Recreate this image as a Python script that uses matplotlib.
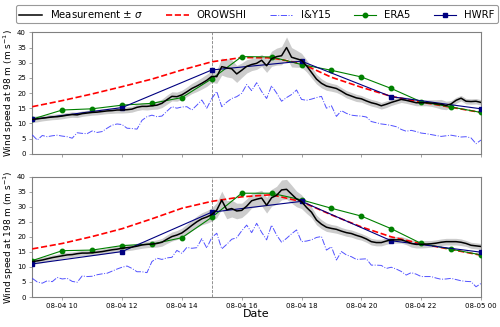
import numpy as np
import pandas as pd
import matplotlib
matplotlib.use("Agg")
import matplotlib.pyplot as plt
import matplotlib.dates as mdates

# ---------------- data ----------------
start = "2018-08-04 09:00"

# 10-min measurements (98 m)
meas_98 = [11.3, 11.5, 11.7, 11.9, 12.1, 12.2,
           12.4, 12.7, 12.9, 12.8, 13.2, 13.4,
           13.6, 13.7, 13.9, 14.1, 14.2, 14.4,
           14.4, 14.5, 14.7, 15.3, 15.6, 15.6,
           15.8, 16.0, 16.6, 17.8, 18.9, 18.8,
           19.4, 20.4, 21.5, 22.3, 23.2, 24.2,
           25.5, 25.4, 28.7, 28.3, 28.0, 26.3,
           27.5, 28.8, 29.4, 29.8, 30.8, 29.0,
           31.3, 32.0, 32.3, 35.0, 31.8, 31.3,
           30.8, 29.0, 26.8, 24.6, 23.2, 22.3,
           21.9, 21.5, 20.6, 19.6, 19.0, 18.4,
           18.1, 17.4, 16.8, 16.4, 15.8, 16.3,
           16.9, 17.4, 17.9, 17.6, 17.2, 16.8,
           16.8, 16.8, 16.7, 16.5, 16.3, 15.9,
           16.4, 17.6, 18.3, 17.3, 17.2, 17.3,
           16.9]
sigma_98 = [1.0, 1.0, 0.9, 0.9, 0.9, 0.9,
            0.9, 0.9, 0.9, 0.9, 0.9, 0.9,
            0.9, 0.9, 0.9, 0.9, 0.9, 1.0,
            1.0, 1.0, 1.0, 1.1, 1.1, 1.2,
            1.2, 1.3, 1.4, 1.5, 1.5, 1.5,
            1.5, 1.6, 1.7, 1.8, 1.9, 2.0,
            2.0, 2.2, 2.8, 3.0, 3.0, 2.8,
            2.4, 2.2, 2.0, 2.0, 2.0, 2.2,
            2.5, 2.8, 3.0, 3.5, 3.2, 2.8,
            2.3, 2.0, 1.8, 1.6, 1.5, 1.4,
            1.3, 1.3, 1.2, 1.2, 1.2, 1.2,
            1.1, 1.1, 1.1, 1.1, 1.1, 1.1,
            1.0, 1.0, 1.0, 1.0, 1.0, 1.0,
            1.0, 1.0, 1.1, 1.3, 1.6, 1.4,
            1.1, 1.0, 0.9, 0.9, 0.9, 0.9,
            0.9]
iy15_98 = [6.2, 4.5, 6.0, 5.6, 5.9, 6.1,
           5.8, 5.6, 5.1, 6.9, 6.7, 6.6,
           7.5, 7.0, 7.3, 8.4, 9.4, 9.8,
           9.6, 8.4, 8.3, 8.1, 11.0, 12.2,
           12.7, 12.2, 12.4, 14.0, 15.5, 15.0,
           15.4, 15.5, 14.4, 16.0, 17.7, 15.0,
           18.2, 20.5, 15.5, 17.0, 18.2, 18.8,
           19.9, 22.8, 20.8, 23.4, 20.5, 18.2,
           22.4, 20.0, 17.3, 18.5, 19.5, 21.0,
           17.9, 17.6, 18.0, 18.5, 18.9, 15.0,
           15.8, 12.3, 14.2, 13.3, 12.7, 12.5,
           12.4, 12.1, 10.6, 10.2, 9.8, 9.6,
           9.3, 8.9, 8.0, 7.4, 7.7, 7.3,
           6.8, 6.6, 6.3, 6.0, 5.7, 5.9,
           6.1, 5.8, 5.5, 5.6, 5.2, 3.3,
           4.5]
orowshi_98 = [15.5, 17.5, 19.7, 22.1, 24.6, 27.6, 30.3, 31.7, 31.6,
              29.7, 25.2, 21.9, 18.9, 17.0, 15.3, 13.6]
era5_98 = [11.4, 14.4, 14.8, 16.0, 16.6, 18.5, 24.7, 32.0, 31.9,
           29.4, 27.5, 25.3, 21.5, 17.1, 15.4, 13.6]
hwrf_98 = [11.3, 15.2, 27.6, 30.5, 18.8, 14.8]

# 10-min measurements (198 m)
meas_198 = [11.8, 12.0, 12.3, 12.7, 13.1, 13.4,
            13.7, 14.0, 14.1, 14.4, 14.6, 14.6,
            14.7, 14.9, 15.1, 15.4, 15.7, 15.9,
            16.2, 16.4, 16.6, 16.9, 17.3, 17.5,
            17.6, 17.8, 18.2, 19.2, 20.1, 20.6,
            21.3, 22.5, 23.8, 25.0, 26.0, 26.6,
            27.4, 28.9, 32.2, 29.0, 29.4, 28.6,
            28.8, 30.2, 32.0, 32.5, 32.9, 30.5,
            33.0, 33.8, 35.6, 35.8, 34.2, 32.6,
            31.7, 29.8, 28.2, 25.6, 24.2, 23.2,
            22.8, 22.5, 21.9, 21.4, 21.1, 20.5,
            20.0, 19.3, 18.4, 18.1, 18.1, 18.6,
            19.0, 19.0, 19.0, 18.5, 17.8, 17.5,
            17.5, 17.6, 17.7, 17.9, 18.2, 18.4,
            18.4, 18.4, 18.2, 17.8, 17.2, 17.0,
            16.8]
sigma_198 = [1.0, 0.9, 0.9, 0.9, 0.9, 0.9,
             0.9, 0.9, 0.9, 0.9, 0.9, 0.9,
             0.9, 0.9, 0.9, 0.9, 1.0, 1.0,
             1.0, 1.0, 1.0, 1.0, 1.1, 1.1,
             1.1, 1.2, 1.3, 1.4, 1.5, 1.5,
             1.6, 1.7, 1.8, 1.9, 2.0, 2.1,
             2.2, 2.5, 3.0, 3.0, 2.8, 2.6,
             2.4, 2.4, 2.4, 2.5, 2.6, 2.6,
             2.8, 3.0, 3.3, 3.3, 3.0, 2.6,
             2.3, 2.0, 1.8, 1.6, 1.5, 1.4,
             1.3, 1.3, 1.2, 1.2, 1.2, 1.2,
             1.1, 1.1, 1.1, 1.1, 1.1, 1.1,
             1.1, 1.1, 1.1, 1.1, 1.2, 1.2,
             1.2, 1.2, 1.1, 1.1, 1.1, 1.1,
             1.1, 1.1, 1.1, 1.0, 1.0, 1.0,
             1.0]
iy15_198 = [6.2, 5.0, 4.6, 5.4, 5.1, 6.5,
            6.0, 6.2, 5.2, 4.9, 7.0, 6.8,
            6.9, 7.4, 7.7, 7.9, 8.6, 9.3,
            9.9, 10.3, 9.5, 8.4, 8.4, 8.1,
            11.8, 12.9, 12.5, 13.0, 13.2, 15.5,
            14.5, 16.5, 16.2, 16.4, 19.4, 16.3,
            19.8, 21.2, 16.0, 17.5, 19.2, 19.7,
            22.0, 23.9, 21.4, 24.5, 21.5, 19.0,
            23.9, 20.6, 18.2, 19.5, 21.0, 22.3,
            18.4, 18.6, 19.0, 19.8, 20.1, 15.6,
            16.7, 12.3, 15.1, 14.0, 13.4, 12.5,
            12.6, 12.7, 10.6, 10.6, 10.5, 9.5,
            9.9, 9.3, 8.5, 7.3, 8.1, 7.6,
            6.8, 6.8, 6.8, 6.3, 5.9, 6.0,
            6.2, 5.8, 5.4, 5.2, 5.1, 3.4,
            4.5]
orowshi_198 = [16.0, 17.8, 20.1, 22.7, 26.0, 29.5, 31.8, 33.3, 34.0,
               31.7, 27.3, 23.3, 20.0, 17.7, 15.8, 13.9]
era5_198 = [12.1, 15.4, 15.6, 17.1, 17.6, 19.7, 26.5, 34.5, 34.5,
            32.3, 29.5, 26.9, 22.7, 17.8, 15.9, 14.0]
hwrf_198 = [11.0, 15.1, 28.2, 31.8, 18.7, 14.9]

heights = ["98", "198"]

# ---------------- figure ----------------
t10 = pd.date_range(start, periods=len(meas_98), freq="10min")
t1h = pd.date_range(start, periods=len(era5_98), freq="1h")
t3h = pd.date_range(start, periods=len(hwrf_98), freq="3h")

fig = plt.figure(figsize=(5.0, 3.27), dpi=100)
ax1 = fig.add_axes([0.0646, 0.530, 0.8974, 0.371])
ax2 = fig.add_axes([0.0646, 0.0917, 0.8974, 0.368])

panels = [
    (ax1, meas_98, sigma_98, iy15_98, orowshi_98, era5_98, hwrf_98, heights[0]),
    (ax2, meas_198, sigma_198, iy15_198, orowshi_198, era5_198, hwrf_198, heights[1]),
]

handles = None
for ax, meas, sig, iy, oro, era, hw, h in panels:
    m = np.array(meas)
    s = np.array(sig)
    ax.fill_between(t10, m - s, m + s, color="gray", alpha=0.4, lw=0, zorder=1)
    l1, = ax.plot(t10, m, color="black", lw=1.1, zorder=5, label=r"Measurement $\pm$ $\sigma$")
    l2, = ax.plot(t1h, oro, color="red", ls="--", lw=1.2, zorder=4, label="OROWSHI")
    l3, = ax.plot(t10, iy, color="#3333ff", ls="-.", lw=0.7, alpha=0.85, zorder=3, label="I&Y15")
    l4, = ax.plot(t1h, era, color="green", marker="o", ms=3.2, lw=0.8, zorder=4, label="ERA5")
    l5, = ax.plot(t3h, hw, color="navy", marker="s", ms=3.2, lw=0.8, zorder=4, label="HWRF")
    handles = [l1, l2, l3, l4, l5]
    ax.axvline(pd.Timestamp("2018-08-04 15:00"), color="gray", ls="--", lw=0.6, zorder=2)
    ax.set_xlim(pd.Timestamp("2018-08-04 09:00"), pd.Timestamp("2018-08-05 00:00"))
    ax.set_ylim(0, 40)
    ax.set_yticks(np.arange(0, 41, 5))
    ax.xaxis.set_major_locator(mdates.HourLocator(byhour=range(0, 24, 2)))
    ax.xaxis.set_major_formatter(mdates.DateFormatter("%m-%d %H"))
    ax.tick_params(labelsize=5, length=2.5, width=0.5, color="gray", pad=2)
    for sp in ax.spines.values():
        sp.set_color("gray")
        sp.set_linewidth(0.8)
    ax.set_ylabel(f"Wind speed at {h} m (m s$^{{-1}}$)", fontsize=6.5, labelpad=2)

ax1.tick_params(labelbottom=False)
ax2.set_xlabel("Date", fontsize=8, labelpad=0)
ax1.yaxis.set_label_coords(-0.037, 0.5)
ax2.yaxis.set_label_coords(-0.037, 0.5)

leg = fig.legend(handles=handles, loc="upper center", bbox_to_anchor=(0.514, 0.99),
                 ncol=5, fontsize=7.3, frameon=True, handlelength=2.2,
                 columnspacing=2.3, borderpad=0.3, handletextpad=0.8,
                 borderaxespad=0.2)
leg.get_frame().set_edgecolor("gray")
leg.get_frame().set_linewidth(0.8)

fig.savefig("out.png", dpi=100)
